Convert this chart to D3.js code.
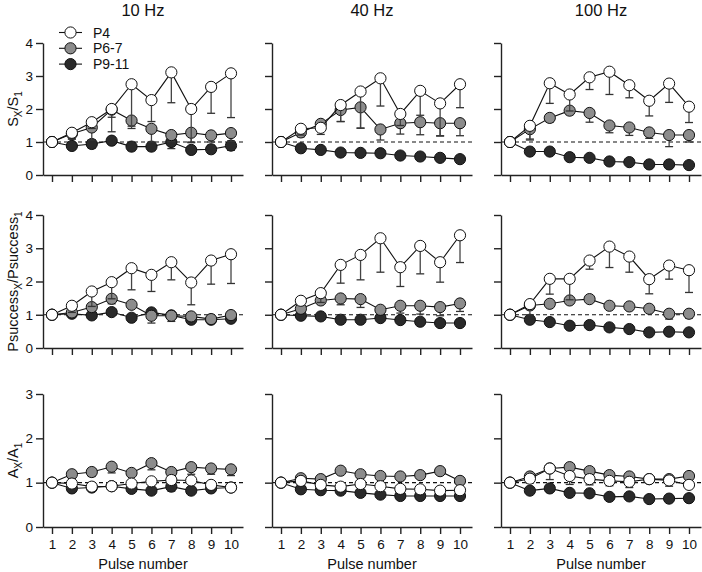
<!DOCTYPE html>
<html><head><meta charset="utf-8">
<script src="https://cdn.jsdelivr.net/npm/d3@7"></script>
<style>
html,body{margin:0;padding:0;background:#fff;}
svg{display:block;font-family:"Liberation Sans",Arial,sans-serif;}
</style></head>
<body><svg id="c" width="702" height="572"></svg>
<script>
// ---------- DATA ----------
const pulses = [1,2,3,4,5,6,7,8,9,10];
const groups = ["P4","P6-7","P9-11"];
const freqs = ["10 Hz","40 Hz","100 Hz"];
const yTicksTop = [0,1,2,3,4];
const yTicksBottom = [0,1,2,3];

// Row 1: Sx/S1
const S_10_P4   = [1,1.28,1.60,2.00,2.75,2.27,3.11,2.00,2.67,3.08];
const S_10_P4e  = [0,0.19,0.19,0.25,1.34,0.65,0.92,1.00,0.80,1.34];
const S_10_P67  = [1,1.25,1.44,1.98,1.65,1.40,1.21,1.28,1.20,1.27];
const S_10_P67e = [0,0.16,0.38,0.67,0.17,0.40,0.20,0.30,0.20,0.25];
const S_10_P911 = [1,0.88,0.94,1.04,0.86,0.86,1.00,0.76,0.78,0.89];
const S_10_P911e= [0,0.10,0.13,0.10,0.12,0.12,0.20,0.10,0.12,0.14];

const S_40_P4   = [1,1.40,1.43,2.12,2.53,2.93,1.85,2.55,2.17,2.75];
const S_40_P4e  = [0,0.19,0.20,0.50,1.11,0.84,0.35,0.74,0.99,0.71];
const S_40_P67  = [1,1.29,1.55,1.97,2.05,1.38,1.57,1.60,1.57,1.57];
const S_40_P67e = [0,0.13,0.10,0.35,0.63,0.32,0.33,0.38,0.38,0.38];
const S_40_P911 = [1,0.81,0.76,0.68,0.67,0.66,0.59,0.56,0.52,0.48];
const S_40_P911e= [0,0.04,0.04,0.04,0.04,0.04,0.04,0.04,0.04,0.04];

const S_100_P4   = [1,1.49,2.78,2.44,2.96,3.13,2.72,2.25,2.77,2.07];
const S_100_P4e  = [0,0.43,0.61,0.50,0.37,0.69,0.38,0.46,0.57,0.48];
const S_100_P67  = [1,1.39,1.73,1.95,1.88,1.50,1.44,1.29,1.21,1.21];
const S_100_P67e = [0,0.30,0.13,0.12,0.28,0.22,0.24,0.18,0.35,0.21];
const S_100_P911 = [1,0.71,0.71,0.54,0.52,0.41,0.39,0.32,0.32,0.30];
const S_100_P911e= [0,0.04,0.04,0.04,0.04,0.04,0.04,0.04,0.04,0.04];

// Row 2: Psuccess_x / Psuccess_1
const P_10_P4   = [1,1.27,1.70,1.98,2.40,2.20,2.58,1.97,2.63,2.82];
const P_10_P4e  = [0,0.20,0.45,0.50,0.65,0.50,0.53,0.67,0.71,0.88];
const P_10_P67  = [1,1.07,1.23,1.48,1.30,0.97,0.97,0.95,0.87,0.99];
const P_10_P67e = [0,0.05,0.12,0.15,0.08,0.22,0.17,0.10,0.10,0.10];
const P_10_P911 = [1,1.03,0.98,1.08,0.91,1.07,0.98,0.85,0.85,0.88];
const P_10_P911e= [0,0.05,0.06,0.04,0.05,0.05,0.08,0.06,0.06,0.08];

const P_40_P4   = [1,1.42,1.65,2.50,2.80,3.30,2.43,3.07,2.58,3.39];
const P_40_P4e  = [0,0.10,0.28,0.55,0.75,1.02,0.58,0.84,0.60,0.82];
const P_40_P67  = [1,1.18,1.43,1.49,1.47,1.15,1.27,1.27,1.23,1.34];
const P_40_P67e = [0,0.10,0.08,0.19,0.25,0.10,0.22,0.25,0.26,0.24];
const P_40_P911 = [1,0.97,0.95,0.85,0.85,0.90,0.84,0.79,0.75,0.75];
const P_40_P911e= [0,0.04,0.04,0.04,0.04,0.04,0.04,0.04,0.04,0.04];

const P_100_P4   = [1,1.32,2.08,2.08,2.63,3.05,2.75,2.07,2.48,2.34];
const P_100_P4e  = [0,0.32,0.46,0.63,0.26,0.63,0.47,0.44,0.41,0.67];
const P_100_P67  = [1,1.28,1.33,1.43,1.47,1.27,1.25,1.18,1.03,1.03];
const P_100_P67e = [0,0.10,0.06,0.10,0.08,0.05,0.05,0.05,0.16,0.13];
const P_100_P911 = [1,0.85,0.78,0.67,0.69,0.62,0.57,0.47,0.49,0.47];
const P_100_P911e= [0,0.04,0.04,0.04,0.04,0.04,0.04,0.04,0.04,0.04];

// Row 3: Ax/A1
const A_10_P4   = [1,0.98,0.91,0.92,0.98,1.03,1.06,1.05,0.95,0.89];
const A_10_P4e  = [0,0.06,0.05,0.05,0.06,0.07,0.08,0.08,0.06,0.05];
const A_10_P67  = [1,1.19,1.24,1.36,1.22,1.44,1.24,1.35,1.32,1.30];
const A_10_P67e = [0,0.05,0.10,0.14,0.05,0.15,0.06,0.16,0.13,0.14];
const A_10_P911 = [1,0.87,0.89,0.92,0.86,0.82,0.91,0.82,0.87,0.89];
const A_10_P911e= [0,0.05,0.04,0.05,0.04,0.04,0.10,0.04,0.04,0.04];

const A_40_P4   = [1,1.04,0.95,0.91,0.97,0.92,0.86,0.85,0.82,0.83];
const A_40_P4e  = [0,0.04,0.04,0.04,0.04,0.04,0.04,0.04,0.04,0.04];
const A_40_P67  = [1,1.10,1.08,1.27,1.19,1.15,1.14,1.17,1.26,1.04];
const A_40_P67e = [0,0.04,0.04,0.05,0.04,0.04,0.04,0.05,0.05,0.04];
const A_40_P911 = [1,0.85,0.83,0.82,0.77,0.73,0.70,0.70,0.70,0.70];
const A_40_P911e= [0,0.03,0.03,0.03,0.03,0.03,0.03,0.03,0.03,0.03];

const A_100_P4   = [1,1.09,1.32,1.15,1.08,1.04,1.02,1.08,1.05,0.95];
const A_100_P4e  = [0,0.10,0.25,0.19,0.13,0.11,0.13,0.08,0.13,0.06];
const A_100_P67  = [1,1.14,1.32,1.35,1.26,1.17,1.14,1.08,1.08,1.15];
const A_100_P67e = [0,0.05,0.05,0.05,0.05,0.04,0.04,0.04,0.04,0.04];
const A_100_P911 = [1,0.82,0.87,0.77,0.76,0.68,0.69,0.63,0.64,0.65];
const A_100_P911e= [0,0.03,0.03,0.03,0.03,0.03,0.03,0.03,0.03,0.03];

// ---------- TABLES built from the arrays ----------
const panels = [
  [ {P4:[S_10_P4,S_10_P4e],P67:[S_10_P67,S_10_P67e],P911:[S_10_P911,S_10_P911e]},
    {P4:[S_40_P4,S_40_P4e],P67:[S_40_P67,S_40_P67e],P911:[S_40_P911,S_40_P911e]},
    {P4:[S_100_P4,S_100_P4e],P67:[S_100_P67,S_100_P67e],P911:[S_100_P911,S_100_P911e]} ],
  [ {P4:[P_10_P4,P_10_P4e],P67:[P_10_P67,P_10_P67e],P911:[P_10_P911,P_10_P911e]},
    {P4:[P_40_P4,P_40_P4e],P67:[P_40_P67,P_40_P67e],P911:[P_40_P911,P_40_P911e]},
    {P4:[P_100_P4,P_100_P4e],P67:[P_100_P67,P_100_P67e],P911:[P_100_P911,P_100_P911e]} ],
  [ {P4:[A_10_P4,A_10_P4e],P67:[A_10_P67,A_10_P67e],P911:[A_10_P911,A_10_P911e]},
    {P4:[A_40_P4,A_40_P4e],P67:[A_40_P67,A_40_P67e],P911:[A_40_P911,A_40_P911e]},
    {P4:[A_100_P4,A_100_P4e],P67:[A_100_P67,A_100_P67e],P911:[A_100_P911,A_100_P911e]} ]
];

// ---------- LAYOUT / STYLE ----------
const svg = d3.select("#c");
const colLeft = [43, 272, 501];
const plotW = 200;
const rows = [
  {top:43,  bottom:175, max:4, ticks:yTicksTop},
  {top:215, bottom:348, max:4, ticks:yTicksTop},
  {top:394, bottom:527, max:3, ticks:yTicksBottom}
];
const axisColor = "#222";
const seriesStyle = {
  P911:{fill:"#2a2a2a", dir:"both", name:"P9-11"},
  P67: {fill:"#8c8c8c", dir:"down", name:"P6-7"},
  P4:  {fill:"#ffffff", dir:"down", name:"P4"}
};
const drawOrder = ["P911","P67","P4"];
const R = 5.6;

function yLabel(g, cx, cy, parts){
  const t = g.append("text")
    .attr("transform", `translate(${cx},${cy}) rotate(-90)`)
    .attr("text-anchor","middle")
    .attr("font-size",14.5)
    .attr("fill","#111");
  parts.forEach(p=>{
    const ts = t.append("tspan").text(p[0]);
    if(p[1]){ ts.attr("font-size",10).attr("dy",4); }
    else if(p[2]){ ts.attr("dy",-4); }
  });
}

rows.forEach((row, ri) => {
  const y = d3.scaleLinear().domain([0,row.max]).range([row.bottom,row.top]);
  colLeft.forEach((left, ci) => {
    const x = d3.scaleLinear()
      .domain([1 - 9/19.9, 10 + 12/19.9])
      .range([left, left + plotW]);
    const g = svg.append("g");

    // dashed reference line at 1
    g.append("line")
      .attr("x1", left).attr("x2", left+plotW)
      .attr("y1", y(1)).attr("y2", y(1))
      .attr("stroke","#111").attr("stroke-width",1.2)
      .attr("stroke-dasharray","4,3");

    // axes
    const ya = d3.axisLeft(y).tickValues(row.ticks).tickSize(7).tickPadding(3).tickSizeOuter(0)
      .tickFormat(ci===0 ? d3.format("d") : "");
    const yg = g.append("g").attr("transform",`translate(${left},0)`).call(ya);
    const xa = d3.axisBottom(x).tickValues(pulses).tickSize(7).tickPadding(5).tickSizeOuter(0)
      .tickFormat(ri===2 ? d3.format("d") : "");
    const xg = g.append("g").attr("transform",`translate(0,${row.bottom})`).call(xa);
    [yg,xg].forEach(a=>{
      a.selectAll("path,line").attr("stroke",axisColor).attr("stroke-width",1.4);
      a.selectAll("text").attr("fill","#111").attr("font-size",13.5)
        .attr("font-family","'Liberation Sans',Arial,sans-serif");
    });

    const pd = panels[ri][ci];
    const line = d3.line().x((d,i)=>x(pulses[i])).y(d=>y(d));

    drawOrder.forEach(key => {
      const [vals, errs] = pd[key];
      const st = seriesStyle[key];
      const sg = g.append("g");
      // error bars
      vals.forEach((v,i)=>{
        const e = errs[i];
        if(!e) return;
        const cx = x(pulses[i]);
        const lo = v - e, hi = st.dir==="both" ? v + e : v;
        sg.append("line").attr("x1",cx).attr("x2",cx).attr("y1",y(lo)).attr("y2",y(hi))
          .attr("stroke","#444").attr("stroke-width",1.3);
        sg.append("line").attr("x1",cx-4).attr("x2",cx+4).attr("y1",y(lo)).attr("y2",y(lo))
          .attr("stroke","#333").attr("stroke-width",1.3);
        if(st.dir==="both")
          sg.append("line").attr("x1",cx-4).attr("x2",cx+4).attr("y1",y(hi)).attr("y2",y(hi))
            .attr("stroke","#333").attr("stroke-width",1.3);
      });
      sg.append("path").datum(vals).attr("d",line)
        .attr("fill","none").attr("stroke","#111").attr("stroke-width",1.1);
      sg.selectAll("circle").data(vals).join("circle")
        .attr("cx",(d,i)=>x(pulses[i])).attr("cy",d=>y(d)).attr("r",R)
        .attr("fill",st.fill).attr("stroke","#111").attr("stroke-width",1);
    });

    if(ri===0){
      svg.append("text").attr("x",left+plotW/2).attr("y",16)
        .attr("text-anchor","middle").attr("font-size",16.5).attr("fill","#111")
        .text(freqs[ci]);
    }
    if(ri===2){
      svg.append("text").attr("x",left+plotW/2).attr("y",569)
        .attr("text-anchor","middle").attr("font-size",14.5).attr("fill","#111")
        .text("Pulse number");
    }
  });
});

// y-axis labels with subscripts
yLabel(svg, 18, (rows[0].top+rows[0].bottom)/2, [["S"],["X",true],["/S",false,true],["1",true]]);
yLabel(svg, 18, (rows[1].top+rows[1].bottom)/2, [["Psuccess"],["X",true],["/Psuccess",false,true],["1",true]]);
yLabel(svg, 18, (rows[2].top+rows[2].bottom)/2, [["A"],["X",true],["/A",false,true],["1",true]]);

// legend
const legend = svg.append("g");
["P4","P67","P911"].forEach((key,i)=>{
  const yy = 32.5 + i*15.8;
  const st = seriesStyle[key];
  legend.append("line").attr("x1",59).attr("x2",82).attr("y1",yy).attr("y2",yy)
    .attr("stroke","#111").attr("stroke-width",1.1);
  legend.append("circle").attr("cx",70.5).attr("cy",yy).attr("r",R)
    .attr("fill",st.fill).attr("stroke","#111").attr("stroke-width",1);
  legend.append("text").attr("x",93).attr("y",yy+5).attr("font-size",14).attr("fill","#111")
    .text(st.name);
});
</script></body></html>
